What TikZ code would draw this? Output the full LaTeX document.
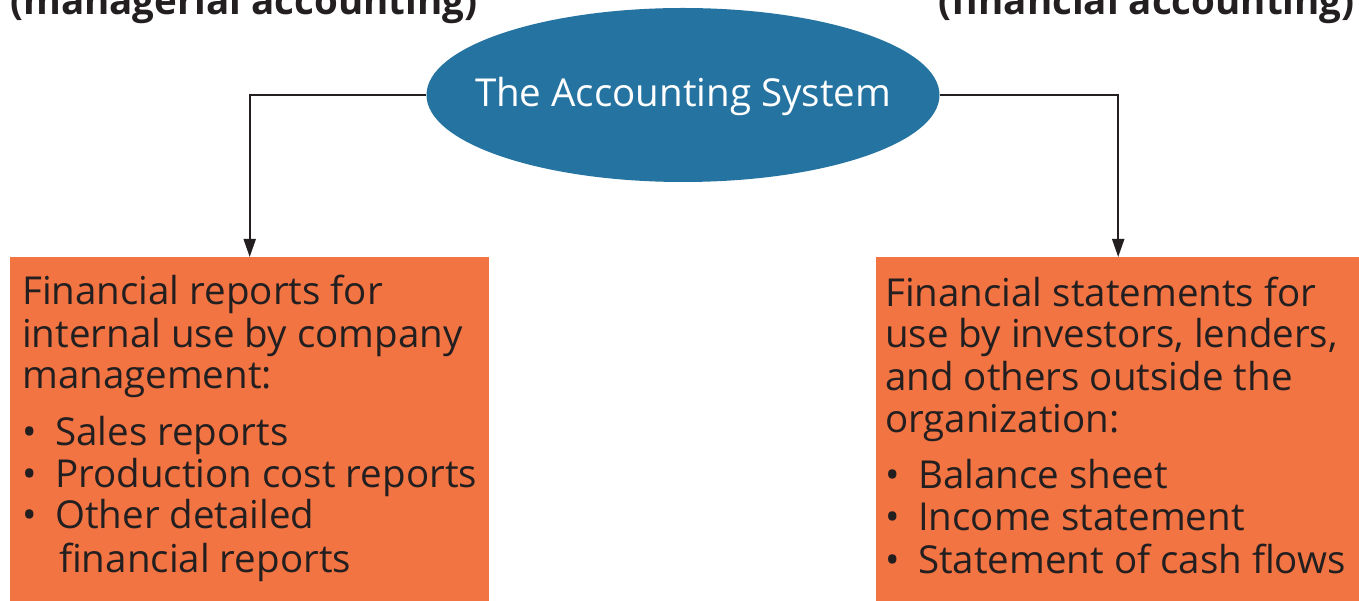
\documentclass[tikz,border=0pt]{standalone}
\usepackage{fontspec}
\setmainfont{Open Sans}
\usetikzlibrary{positioning,arrows.meta,shapes.geometric}
\definecolor{sysblue}{HTML}{2473A0}
\definecolor{rptorange}{HTML}{F27442}
\definecolor{inkdark}{HTML}{231F20}

\begin{document}
\begin{tikzpicture}[
    x=1pt, y=-1pt,
    sys/.style={ellipse, fill=sysblue, text=white, minimum width=513pt, minimum height=174pt,
                inner sep=0pt, font=\fontsize{38.5}{42}\selectfont},
    rpt/.style={fill=rptorange, inner sep=0pt, anchor=north west, minimum height=360pt},
    hdr/.style={anchor=base west, inner sep=0pt, text=inkdark, font=\fontsize{38.5}{42}\selectfont\bfseries},
    txt/.style={anchor=base west, inner sep=0pt, text=inkdark, font=\fontsize{38.5}{42}\selectfont},
    item/.style={txt},
    arr/.style={-{Triangle[length=18pt,width=12pt]}, line width=2pt, draw=inkdark}
  ]
    \useasboundingbox (0,0) rectangle (1359,601);
    \clip (0,0) rectangle (1359,601);

    % headings, cut off at the top
    \node[hdr] (mgmtacct) at (10,15) {(managerial accounting)};
    \node[hdr, anchor=base east] (finacct) at (1355,15) {(financial accounting)};

    % the system
    \node[sys] (sys) at (683,95) {\makebox[0pt]{\raisebox{-12pt}[0pt][0pt]{The Accounting System}}};

    % report boxes
    \node[rpt, minimum width=479pt] (mgmt) at (10,257) {};
    \node[rpt, minimum width=484pt] (fin) at (876,257) {};

    % left box text
    \foreach \y/\t [count=\i] in {305/Financial reports for, 347/internal use by company, 388/management:}
      \node[txt] (mgmt-\i) at (22,\y) {\t};
    \foreach \y/\t [count=\i] in {445/Sales reports, 487/Production cost reports, 528/Other detailed}
      \node[item] (mgmt-item\i) at (22,\y) {\makebox[33pt][l]{•}\t};
    \node[txt] (mgmt-item3b) at (59,572) {financial reports};

    % right box text
    \foreach \y/\t [count=\i] in {307/Financial statements for, 348/{use by investors, lenders,},
                                  390/and others outside the, 432/organization:}
      \node[txt] (fin-\i) at (885,\y) {\t};
    \foreach \y/\t [count=\i] in {488/Balance sheet, 530/Income statement, 573/Statement of cash flows}
      \node[item] (fin-item\i) at (885,\y) {\makebox[33pt][l]{•}\t};

    \draw[arr] (sys.west) -| (mgmt.north);
    \draw[arr] (sys.east) -| (fin.north);
  \end{tikzpicture}
\end{document}
